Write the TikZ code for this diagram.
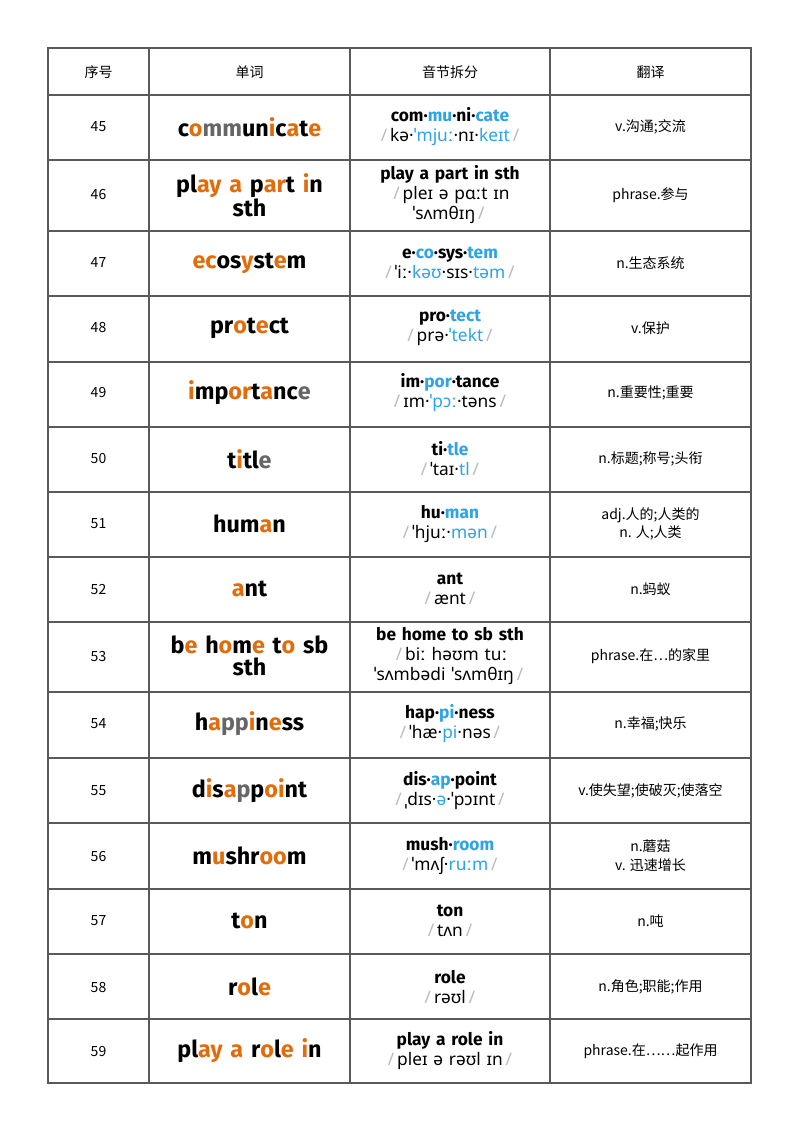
\documentclass[tikz,border=0pt]{standalone}
\usepackage{fontspec}
\setmainfont{Noto Sans}
\newfontfamily\fira{Fira Sans}
\newfontfamily\cjk{Noto Sans CJK SC}
\definecolor{og}{HTML}{E36C0A}
\definecolor{bl}{HTML}{2EA3E6}
\definecolor{gy}{HTML}{666666}
\definecolor{sg}{HTML}{BBBBBB}
\newcommand\Oc[1]{\textcolor{og}{#1}}
\newcommand\Gc[1]{\textcolor{gy}{#1}}
\newcommand\Bc[1]{\textcolor{bl}{#1}}
\newcommand\SLh{\textcolor{sg}{\,/\,}}
\newcommand\Bd[1]{{\fira\bfseries #1}}
\begin{document}
\begin{tikzpicture}[x=0.75pt,y=-0.75pt,
  word/.style={font=\fira\bfseries\fontsize{17.5}{16}\selectfont,align=center,text width=135pt,inner sep=0pt},
  syl/.style={font=\fontsize{13}{15}\selectfont,align=center,text width=140pt,inner sep=0pt},
  cell/.style={font=\cjk\fontsize{10.5}{14}\selectfont,align=center,inner sep=0pt}]
\useasboundingbox (0,0) rectangle (800,1132);
\fill[white] (0,0) rectangle (800,1132);
\draw[gray!70!black,line width=0.8pt] (48,48) rectangle (751,1083);
\foreach \y in {95,160,231,296,362,427,492,557,622,692,758,823,889,954,1019}
  \draw[gray!70!black,line width=0.8pt] (48,\y) -- (751,\y);
\foreach \x in {149,350,550}
  \draw[gray!70!black,line width=0.8pt] (\x,48) -- (\x,1083);
\node[cell] (h1) at (98.5,72) {序号};
\node[cell] (h2) at (249.5,72) {单词};
\node[cell] (h3) at (450,72) {音节拆分};
\node[cell] (h4) at (650.5,72) {翻译};
\newcommand\rowx[6]{%
  \node[cell] (n#1) at (98.5,#2) {#1};
  \node[word] (w#1) at (249.5,#2) {#3};
  \node[syl] (s#1) at (450,#2) {#4};
  \node[cell] (t#1) at (650.5,#2) {#5};}
\rowx{45}{127}{c\Oc{o}\Gc{mm}un\Oc{i}c\Oc{a}t\Oc{e}}{\Bd{com·\Bc{mu}·ni·\Bc{cate}}\\\SLh kə·\Bc{ˈmjuː}·nɪ·\Bc{keɪt}\SLh}{v.沟通;交流}{}
\rowx{46}{195}{pl\Oc{ay} \Oc{a} p\Oc{ar}t \Oc{i}n\\sth}{\Bd{play a part in sth}\\\SLh pleɪ ə pɑːt ɪn\\ˈsʌmθɪŋ\SLh}{phrase.参与}{}
\rowx{47}{263}{\Oc{ec}os\Oc{y}st\Oc{e}m}{\Bd{e·\Bc{co}·sys·\Bc{tem}}\\\SLh ˈiː·\Bc{kəʊ}·sɪs·\Bc{təm}\SLh}{n.生态系统}{}
\rowx{48}{328}{pr\Oc{o}t\Oc{e}ct}{\Bd{pro·\Bc{tect}}\\\SLh prə·\Bc{ˈtekt}\SLh}{v.保护}{}
\rowx{49}{393}{\Oc{i}mp\Oc{or}t\Oc{a}nc\Gc{e}}{\Bd{im·\Bc{por}·tance}\\\SLh ɪm·\Bc{ˈpɔː}·təns\SLh}{n.重要性;重要}{}
\rowx{50}{459}{t\Oc{i}tl\Gc{e}}{\Bd{ti·\Bc{tle}}\\\SLh ˈtaɪ·\Bc{tl}\SLh}{n.标题;称号;头衔}{}
\rowx{51}{524}{hum\Oc{a}n}{\Bd{hu·\Bc{man}}\\\SLh ˈhjuː·\Bc{mən}\SLh}{adj.人的;人类的\\n. 人;人类}{}
\rowx{52}{589}{\Oc{a}nt}{\Bd{ant}\\\SLh ænt\SLh}{n.蚂蚁}{}
\rowx{53}{656}{b\Oc{e} h\Oc{o}m\Oc{e} t\Oc{o} sb\\sth}{\Bd{be home to sb sth}\\\SLh biː həʊm tuː\\ˈsʌmbədi ˈsʌmθɪŋ\SLh}{phrase.在…的家里}{}
\rowx{54}{724}{h\Oc{a}\Gc{pp}\Oc{i}n\Oc{e}ss}{\Bd{hap·\Bc{pi}·ness}\\\SLh ˈhæ·\Bc{pi}·nəs\SLh}{n.幸福;快乐}{}
\rowx{55}{791}{d\Oc{i}s\Oc{a}\Gc{p}p\Oc{oi}nt}{\Bd{dis·\Bc{ap}·point}\\\SLh ˌdɪs·\Bc{ə}·ˈpɔɪnt\SLh}{v.使失望;使破灭;使落空}{}
\rowx{56}{856}{m\Oc{u}shr\Oc{oo}m}{\Bd{mush·\Bc{room}}\\\SLh ˈmʌʃ·\Bc{ruːm}\SLh}{n.蘑菇\\v. 迅速增长}{}
\rowx{57}{921}{t\Oc{o}n}{\Bd{ton}\\\SLh tʌn\SLh}{n.吨}{}
\rowx{58}{987}{r\Oc{o}l\Oc{e}}{\Bd{role}\\\SLh rəʊl\SLh}{n.角色;职能;作用}{}
\rowx{59}{1051}{pl\Oc{ay} \Oc{a} r\Oc{o}l\Oc{e} \Oc{i}n}{\Bd{play a role in}\\\SLh pleɪ ə rəʊl ɪn\SLh}{phrase.在……起作用}{}
\end{tikzpicture}
\end{document}
